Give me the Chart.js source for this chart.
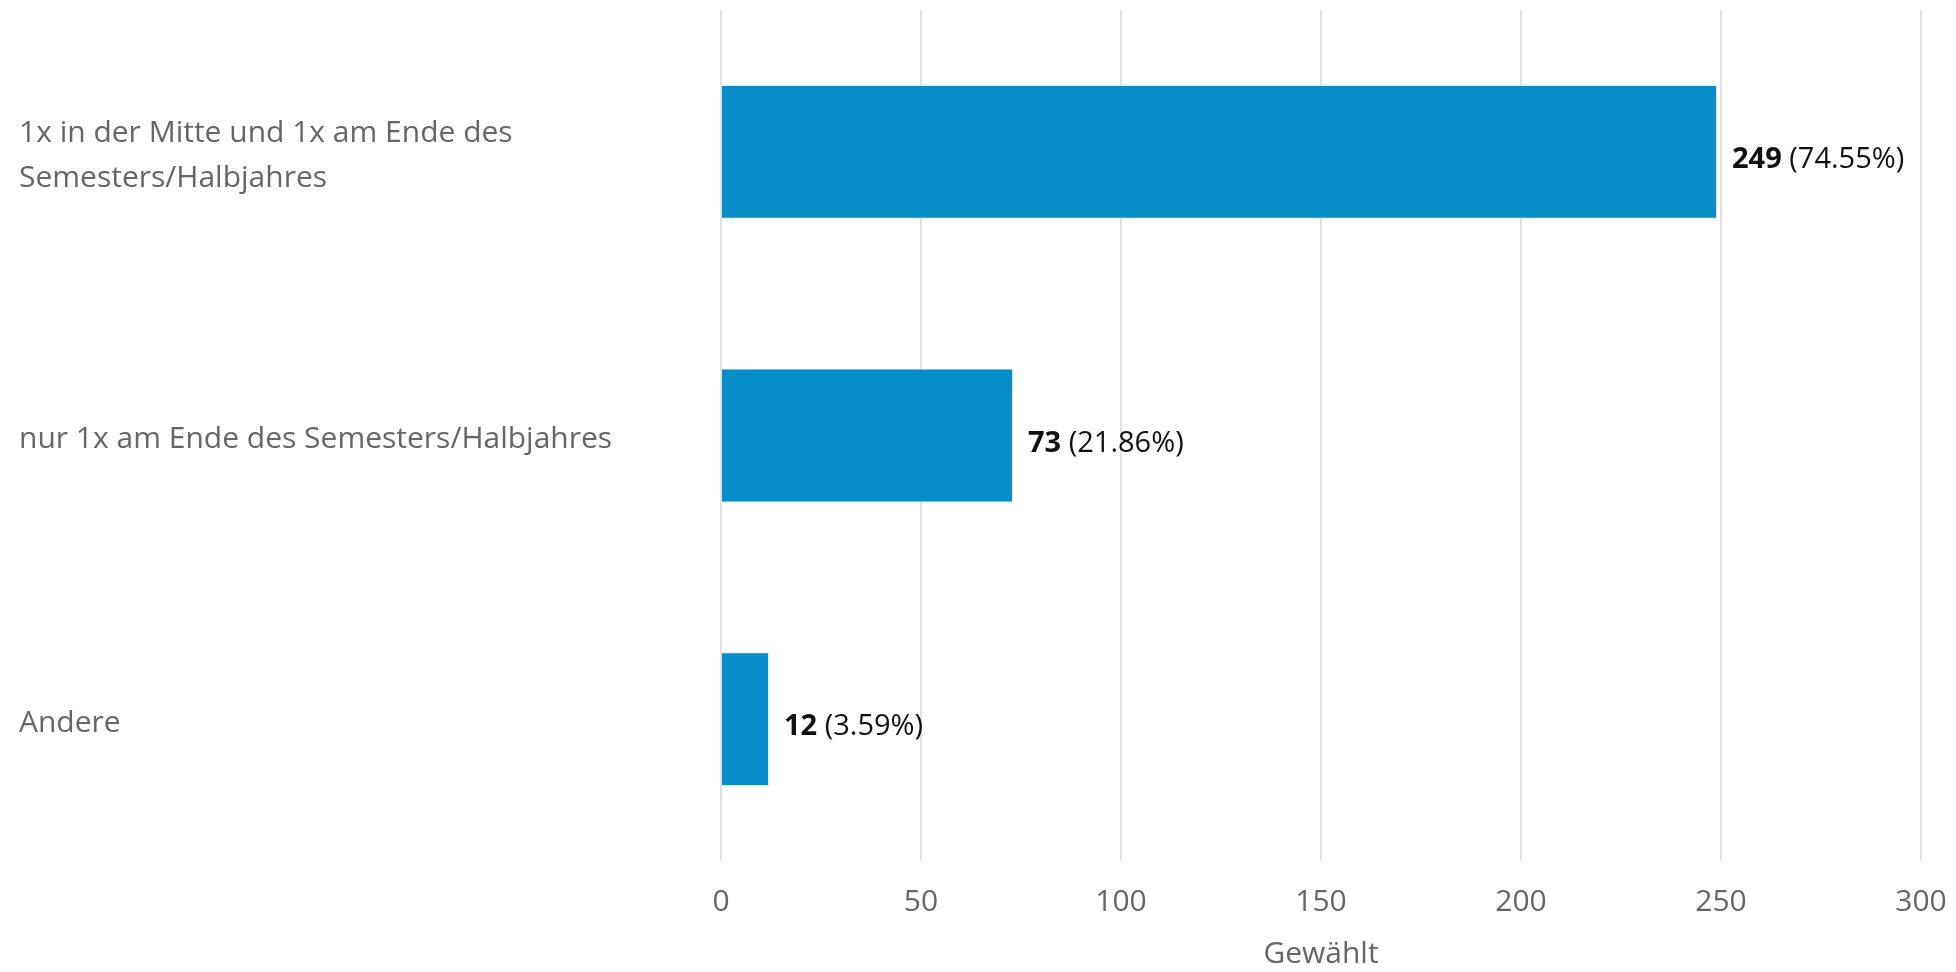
<!DOCTYPE html>
<html>
<head>
<meta charset="utf-8">
<script src="https://cdn.jsdelivr.net/npm/chart.js@4.4.0/dist/chart.umd.min.js"></script>
<style>
  html, body { margin: 0; padding: 0; background: #fff; }
  #wrap { width: 1956px; height: 972px; position: relative; }
</style>
</head>
<body>
<div id="wrap"><canvas id="myChart"></canvas></div>
<script>
// categories and values
var categories = [
    ['1x in der Mitte und 1x am Ende des', 'Semesters/Halbjahres'],
    'nur 1x am Ende des Semesters/Halbjahres',
    'Andere'
];
var counts = [249, 73, 12];
var percents = ['74.55%', '21.86%', '3.59%'];
var xTicks = [0, 50, 100, 150, 200, 250, 300];

var FONT = "'Open Sans', 'Noto Sans', sans-serif";

// writes "249 (74.55%)" next to each bar
var valueLabels = {
    id: 'valueLabels',
    afterDatasetsDraw: function (chart) {
        var c = chart.ctx;
        var meta = chart.getDatasetMeta(0);
        c.save();
        c.textBaseline = 'middle';
        c.fillStyle = '#111';
        meta.data.forEach(function (bar, i) {
            var x = bar.x + 15;
            var y = bar.y + 8;
            c.font = 'bold 29px ' + FONT;
            var num = String(counts[i]);
            c.fillText(num, x, y);
            x += c.measureText(num).width;
            c.font = '29px ' + FONT;
            c.fillText(' (' + percents[i] + ')', x, y);
        });
        c.restore();
    }
};

function noPad(axis) {
    axis.paddingLeft = 0;
    axis.paddingRight = 0;
    axis.paddingTop = 0;
    axis.paddingBottom = 0;
}

var ctx = document.getElementById('myChart').getContext('2d');
var chart = new Chart(ctx, {
    type: 'bar',
    data: {
        labels: categories,
        datasets: [{
            data: counts,
            backgroundColor: '#068cc7',
            borderColor: '#d6eef8',
            borderWidth: 1,
            categoryPercentage: 1,
            barPercentage: 0.472
        }]
    },
    plugins: [valueLabels],
    options: {
        indexAxis: 'y',
        responsive: true,
        maintainAspectRatio: false,
        animation: false,
        layout: { padding: { left: 19, top: 10, right: 35, bottom: 0 } },
        plugins: {
            legend: { display: false },
            tooltip: { enabled: false }
        },
        scales: {
            x: {
                min: 0,
                max: 300,
                afterBuildTicks: function (axis) {
                    axis.ticks = xTicks.map(function (v) { return { value: v }; });
                },
                afterFit: function (axis) { noPad(axis); axis.height = 111; },
                border: { display: false },
                grid: { color: '#e2e2e2', lineWidth: 2, drawTicks: false },
                ticks: {
                    padding: 23,
                    color: '#666',
                    font: { family: FONT, size: 30 }
                },
                title: {
                    display: true,
                    text: 'Gewählt',
                    color: '#666',
                    padding: { top: 0, bottom: 0 },
                    font: { family: FONT, size: 30 }
                }
            },
            y: {
                border: { display: false },
                grid: { display: false },
                afterFit: function (axis) { noPad(axis); axis.width = 702; },
                ticks: {
                    crossAlign: 'far',
                    labelOffset: 4,
                    color: '#666',
                    font: { family: FONT, size: 30, lineHeight: 1.5 }
                }
            }
        }
    }
});
</script>
</body>
</html>
